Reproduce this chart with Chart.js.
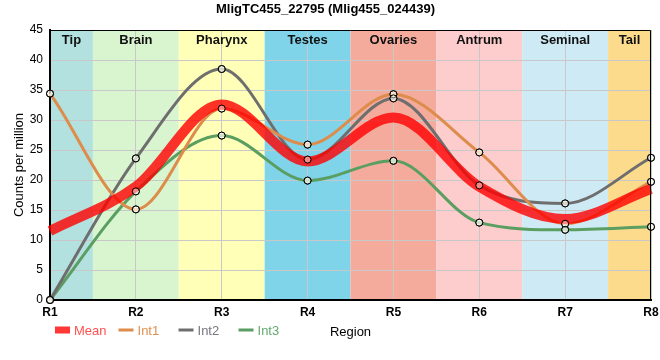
<!DOCTYPE html>
<html>
<head>
<meta charset="utf-8">
<script src="https://cdn.jsdelivr.net/npm/chart.js@4"></script>
<style>
  body { margin: 0; background: #fff; }
  #box { width: 660px; height: 360px; }
</style>
</head>
<body>
<div id="box"><canvas id="grafico" width="660" height="360"></canvas></div>
<script>
const categorias = ["R1", "R2", "R3", "R4", "R5", "R6", "R7", "R8"];
const regioes = ["Tip", "Brain", "Pharynx", "Testes", "Ovaries", "Antrum", "Seminal", "Tail"];
const coresRegioes = ["#b3e1df", "#d9f5d0", "#ffffb8", "#7fd4ea", "#f4ab9c", "#fdcccc", "#ceeaf4", "#fddb8c"];

const media = [11.5, 18.9, 32.6, 23.1, 30.4, 18.9, 13.5, 18.5];
const int1 = [34.4, 15.1, 31.9, 25.9, 34.3, 24.6, 12.7, 19.7];
const int2 = [0, 23.6, 38.5, 23.4, 33.6, 19.1, 16.1, 23.7];
const int3 = [0, 18.1, 27.4, 19.9, 23.2, 12.9, 11.7, 12.2];

const fonte = "'Liberation Sans', Arial, sans-serif";

// legenda: [texto, cor da linha, cor do texto, tipo]
const legenda = [
  ["Mean", "rgba(255,20,20,0.85)", "#ff5050", "caixa"],
  ["Int1", "#dd8c4c", "#e0904e", "linha"],
  ["Int2", "#6e6e6e", "#76767e", "linha"],
  ["Int3", "#5a9e62", "#62aa70", "linha"]
];

const faixas = {
  id: "faixas",
  beforeDraw(chart) {
    const { ctx, chartArea: a, scales: { x } } = chart;
    ctx.save();
    regioes.forEach((nome, i) => {
      const x0 = Math.max(a.left, x.getPixelForValue(i - 0.5));
      const x1 = Math.min(a.right, x.getPixelForValue(i + 0.5));
      ctx.fillStyle = coresRegioes[i];
      ctx.fillRect(x0, a.top, x1 - x0, a.bottom - a.top);
    });
    ctx.restore();
  },
  beforeDatasetsDraw(chart) {
    const { ctx, chartArea: a, scales: { x } } = chart;
    ctx.save();
    ctx.font = "bold 13px " + fonte;
    ctx.fillStyle = "#111";
    ctx.textAlign = "center";
    ctx.textBaseline = "middle";
    regioes.forEach((nome, i) => {
      const x0 = Math.max(a.left, x.getPixelForValue(i - 0.5));
      const x1 = Math.min(a.right, x.getPixelForValue(i + 0.5));
      ctx.fillText(nome, (x0 + x1) / 2, a.top + 10);
    });
    ctx.restore();
  },
  afterDatasetsDraw(chart) {
    // pontos por cima da linha da média
    const ctx = chart.ctx;
    for (let i = 1; i < chart.data.datasets.length; i++) {
      chart.getDatasetMeta(i).data.forEach(p => p.draw(ctx));
    }
  },
  afterDraw(chart) {
    const { ctx, chartArea: a } = chart;
    ctx.save();
    ctx.strokeStyle = "#000";
    ctx.lineWidth = 1;
    ctx.beginPath();
    ctx.moveTo(a.left, a.top + 0.5);
    ctx.lineTo(a.right - 0.5, a.top + 0.5);
    ctx.lineTo(a.right - 0.5, a.bottom);
    ctx.stroke();

    ctx.font = "13px " + fonte;
    ctx.textBaseline = "middle";
    let px = 55;
    const py = 330;
    legenda.forEach(([texto, cor, corTexto, tipo]) => {
      if (tipo === "caixa") {
        ctx.fillStyle = cor;
        ctx.fillRect(px, py - 3.5, 15, 7);
      } else {
        ctx.strokeStyle = cor;
        ctx.lineWidth = 3;
        ctx.beginPath();
        ctx.moveTo(px, py);
        ctx.lineTo(px + 15, py);
        ctx.stroke();
      }
      ctx.fillStyle = corTexto;
      ctx.textAlign = "left";
      ctx.fillText(texto, px + 19, py + 1);
      px += Math.max(60, 19 + ctx.measureText(texto).width + 12);
    });

    ctx.fillStyle = "#000";
    ctx.textAlign = "center";
    ctx.fillText("Region", (a.left + a.right) / 2, py + 2);
    ctx.restore();
  }
};

const estiloPonto = {
  borderWidth: 3,
  pointRadius: 3.5,
  pointBorderWidth: 1,
  pointBorderColor: "#000",
  pointBackgroundColor: "rgba(255,255,245,0.45)",
  cubicInterpolationMode: "monotone",
  clip: false
};

const ctx = document.getElementById("grafico").getContext("2d");
new Chart(ctx, {
  type: "line",
  data: {
    labels: categorias,
    datasets: [
      {
        label: "Mean",
        data: media,
        borderColor: "rgba(255,0,0,0.8)",
        borderWidth: 10,
        pointRadius: 0,
        cubicInterpolationMode: "monotone",
        clip: false
      },
      { label: "Int1", data: int1, borderColor: "#dd8c4c", ...estiloPonto },
      { label: "Int2", data: int2, borderColor: "#6e6e6e", ...estiloPonto },
      { label: "Int3", data: int3, borderColor: "#5a9e62", ...estiloPonto }
    ]
  },
  options: {
    responsive: false,
    animation: false,
    layout: { padding: { right: 9, left: 0, top: 0, bottom: 0 } },
    plugins: {
      legend: { display: false },
      tooltip: { enabled: false },
      title: {
        display: true,
        text: "MligTC455_22795 (Mlig455_024439)",
        color: "#000",
        font: { family: fonte, size: 13, weight: "bold" },
        padding: { top: 2, bottom: 12.4 }
      }
    },
    scales: {
      x: {
        offset: false,
        grid: { color: "#c8c8c8", drawTicks: false },
        border: { color: "#000", width: 2 },
        ticks: {
          color: "#000",
          padding: 5,
          maxRotation: 0,
          font: { family: fonte, size: 12, weight: "bold" }
        },
        afterFit: s => { s.height = 60; s.paddingRight = 0; s.paddingLeft = 0; }
      },
      y: {
        min: 0,
        max: 45,
        grid: { color: "#c8c8c8", drawTicks: false },
        border: { color: "#000", width: 2 },
        ticks: {
          stepSize: 5,
          color: "#000",
          padding: 7,
          font: { family: fonte, size: 12 }
        },
        title: {
          display: true,
          text: "Counts per million",
          color: "#000",
          font: { family: fonte, size: 13 },
          padding: { top: 12, bottom: 0 }
        },
        afterFit: s => { s.width = 50; }
      }
    }
  },
  plugins: [faixas]
});
</script>
</body>
</html>
